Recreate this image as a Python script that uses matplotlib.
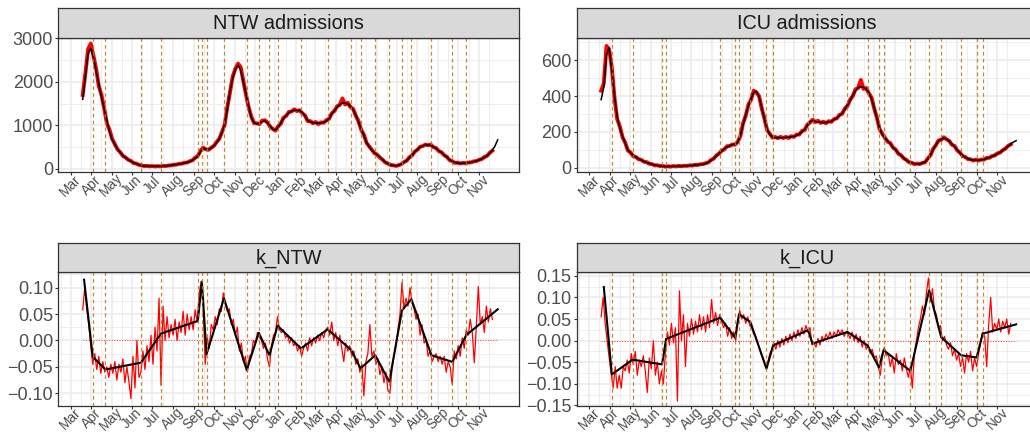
import numpy as np
import pandas as pd
import matplotlib
matplotlib.use('Agg')
from matplotlib import pyplot as plt

plt.rcParams['font.family'] = ['Liberation Sans', 'DejaVu Sans']

origin = pd.Timestamp('2020-03-01')

# change points (dashed lines)
ntw_breaks = ['2020-04-03', '2020-04-22', '2020-06-14', '2020-07-14', '2020-09-07', '2020-09-13',
              '2020-09-20', '2020-10-16', '2020-11-19', '2020-12-07', '2020-12-23', '2021-01-04',
              '2021-02-08', '2021-03-20', '2021-04-24', '2021-05-08', '2021-05-30', '2021-06-20',
              '2021-07-09', '2021-07-23', '2021-08-22', '2021-09-22', '2021-10-13']
icu_breaks = ['2020-04-04', '2020-05-05', '2020-06-18', '2020-06-24', '2020-09-13', '2020-10-05',
              '2020-10-11', '2020-10-28', '2020-11-21', '2020-12-01', '2021-01-22', '2021-01-29',
              '2021-03-22', '2021-04-21', '2021-05-08', '2021-05-15', '2021-06-24', '2021-07-22',
              '2021-08-09', '2021-09-08', '2021-10-01', '2021-10-10']

# admissions: observed (every 4 days) and fitted (every 4 days), from 2020-03-19
adm_start = '2020-03-19'
ntw_obs = [1700, 2200, 2750, 2880, 2600, 2300, 1900, 1700, 1400, 1050,
           900, 690, 570, 450, 385, 300, 265, 210, 185, 135,
           125, 95, 82, 68, 72, 60, 68, 58, 66, 60,
           72, 68, 80, 82, 98, 100, 120, 122, 145, 148,
           180, 200, 260, 300, 420, 490, 450, 440, 490, 530,
           620, 690, 850, 1010, 1420, 1760, 2120, 2300, 2420, 2340,
           2020, 1700, 1410, 1200, 1050, 1050, 1030, 1110, 1120, 1070,
           970, 920, 880, 980, 1040, 1180, 1220, 1310, 1320, 1370,
           1330, 1350, 1280, 1230, 1100, 1100, 1050, 1080, 1030, 1070,
           1060, 1120, 1150, 1280, 1330, 1440, 1470, 1620, 1480, 1520,
           1420, 1380, 1220, 1100, 900, 790, 600, 520, 440, 360,
           330, 260, 215, 150, 125, 90, 85, 70, 88, 110,
           160, 190, 270, 310, 400, 440, 510, 525, 560, 545,
           560, 500, 480, 410, 385, 315, 280, 205, 180, 140,
           145, 125, 140, 130, 150, 150, 175, 180, 210, 225,
           275, 300, 370, 420]
ntw_fit = [1600, 2150, 2650, 2770, 2560, 2250, 1950, 1650, 1380, 1120,
           860, 680, 560, 460, 380, 310, 260, 215, 180, 140,
           120, 100, 78, 72, 68, 66, 64, 63, 63, 65,
           68, 72, 77, 85, 95, 105, 115, 125, 138, 150,
           170, 205, 250, 290, 400, 470, 460, 452, 480, 540,
           600, 700, 830, 1030, 1380, 1780, 2080, 2290, 2380, 2270,
           2000, 1720, 1430, 1170, 1070, 1035, 1050, 1090, 1100, 1060,
           990, 910, 900, 960, 1060, 1160, 1230, 1290, 1330, 1350,
           1345, 1340, 1300, 1220, 1120, 1080, 1065, 1055, 1050, 1055,
           1075, 1100, 1160, 1260, 1340, 1420, 1480, 1510, 1515, 1490,
           1440, 1360, 1240, 1080, 920, 770, 610, 510, 430, 370,
           320, 270, 210, 160, 120, 95, 80, 75, 85, 115,
           150, 195, 260, 320, 390, 450, 500, 530, 550, 555,
           545, 510, 470, 420, 375, 325, 270, 215, 175, 150,
           138, 132, 132, 138, 145, 155, 170, 185, 205, 232,
           265, 305, 360, 430, 530, 670]
icu_obs = [430, 470, 680, 660, 560, 390, 270, 230, 170, 140,
           95, 85, 64, 60, 47, 44, 33, 31, 22, 20,
           13, 14, 9, 10, 6, 8, 6, 9, 7, 10,
           8, 11, 10, 13, 12, 16, 15, 19, 20, 25,
           29, 43, 50, 68, 78, 95, 102, 120, 121, 130,
           128, 145, 175, 248, 290, 352, 380, 430, 420, 400,
           330, 275, 210, 190, 168, 172, 165, 172, 166, 172,
           166, 176, 172, 185, 185, 205, 210, 240, 252, 268,
           255, 262, 250, 257, 248, 260, 256, 272, 275, 295,
           300, 330, 345, 380, 400, 438, 445, 490, 440, 445,
           415, 392, 330, 280, 215, 190, 168, 145, 138, 112,
           102, 78, 70, 52, 44, 30, 28, 20, 23, 20,
           27, 30, 52, 68, 105, 125, 152, 155, 170, 158,
           150, 128, 122, 96, 85, 65, 60, 48, 47, 40,
           45, 40, 46, 45, 55, 55, 65, 68, 80, 84,
           98, 106, 122, 130]
icu_fit = [380, 450, 630, 670, 540, 400, 285, 220, 175, 135,
           100, 82, 68, 58, 50, 42, 35, 29, 24, 19,
           15, 12, 10, 8, 7, 7, 7, 8, 8, 9,
           9, 10, 11, 12, 13, 15, 16, 18, 20, 23,
           30, 40, 52, 65, 80, 92, 105, 116, 123, 128,
           132, 140, 180, 240, 295, 345, 385, 420, 428, 395,
           335, 270, 215, 185, 172, 168, 168, 168, 168, 169,
           170, 172, 175, 180, 188, 200, 215, 235, 258, 262,
           258, 255, 253, 252, 253, 255, 260, 268, 278, 290,
           305, 325, 350, 375, 405, 430, 448, 452, 448, 438,
           420, 385, 335, 275, 220, 185, 165, 150, 133, 115,
           98, 82, 68, 55, 42, 32, 26, 22, 21, 22,
           25, 32, 48, 72, 100, 128, 148, 160, 165, 160,
           148, 133, 118, 100, 82, 68, 58, 50, 45, 43,
           42, 42, 44, 47, 52, 57, 63, 70, 78, 86,
           96, 108, 120, 132, 143, 151]

# growth rate k: observed every 3 days from 2020-03-19, fitted piecewise linear at change points
k_start = '2020-03-19'
k_ntw_obs = [0.058, 0.100, 0.060, 0.030, -0.010, -0.045, -0.025, -0.055, -0.030, -0.062,
             -0.040, -0.060, -0.050, -0.070, -0.045, -0.062, -0.040, -0.075, -0.045, -0.060,
             -0.035, -0.080, -0.050, -0.078, -0.110, -0.030, -0.090, 0.000, -0.070, -0.060,
             -0.020, -0.055, -0.010, -0.040, 0.010, -0.045, 0.025, -0.020, 0.080, -0.085,
             0.065, 0.000, 0.045, 0.005, 0.030, 0.010, 0.040, 0.000, 0.035, 0.015,
             0.055, 0.010, 0.050, 0.020, 0.045, 0.020, 0.058, 0.035, 0.090, 0.112,
             0.060, -0.045, 0.005, -0.015, 0.030, 0.020, 0.045, 0.030, 0.060, 0.055,
             0.090, 0.070, 0.055, 0.060, 0.030, 0.040, 0.010, 0.025, -0.020, -0.005,
             -0.040, -0.030, -0.060, -0.030, -0.025, 0.000, -0.005, 0.015, 0.005, 0.000,
             -0.015, -0.005, -0.035, -0.050, -0.010, 0.010, 0.015, 0.045, 0.020, 0.015,
             0.020, 0.005, 0.010, -0.005, 0.005, -0.010, -0.005, -0.020, -0.010, -0.030,
             -0.015, -0.005, -0.020, 0.005, -0.010, 0.005, -0.005, 0.010, 0.000, 0.015,
             0.005, 0.020, 0.025, 0.010, 0.035, 0.000, 0.015, -0.010, 0.010, -0.015,
             -0.040, -0.005, -0.020, -0.010, -0.030, -0.020, -0.045, -0.035, -0.060, -0.045,
             -0.105, -0.040, -0.025, 0.030, -0.030, -0.020, -0.045, -0.035, -0.065, -0.050,
             -0.080, -0.060, -0.095, -0.100, -0.055, -0.030, -0.010, 0.020, 0.050, 0.110,
             0.060, 0.080, 0.065, 0.100, 0.070, 0.060, 0.040, 0.050, 0.010, 0.030,
             -0.005, 0.000, -0.030, -0.020, -0.040, -0.030, -0.025, -0.040, -0.030, -0.045,
             -0.030, -0.060, -0.040, -0.050, -0.083, -0.020, -0.035, -0.010, -0.030, 0.005,
             -0.015, 0.020, 0.010, 0.040, 0.015, -0.042, 0.025, 0.102, 0.030, 0.045,
             0.015, 0.065, 0.035, 0.060, 0.040]
k_icu_obs = [0.055, 0.100, 0.040, 0.000, -0.040, -0.075, -0.110, -0.060, -0.110, -0.080,
             -0.110, -0.060, -0.070, -0.045, -0.075, -0.030, -0.055, -0.025, -0.080, -0.045,
             -0.060, -0.035, -0.070, -0.120, -0.040, -0.065, 0.000, -0.080, -0.050, -0.100,
             -0.070, -0.100, -0.030, 0.020, -0.010, 0.040, -0.005, 0.030, -0.140, 0.115,
             0.000, 0.060, -0.060, 0.040, 0.010, 0.050, 0.015, 0.045, 0.020, 0.060,
             0.025, 0.055, 0.020, 0.060, 0.030, 0.095, 0.040, 0.065, 0.035, 0.060,
             0.045, 0.030, 0.040, 0.010, 0.030, 0.005, 0.020, 0.000, 0.035, 0.070,
             0.050, 0.060, 0.040, 0.055, 0.035, 0.030, 0.015, 0.010, -0.005, -0.020,
             -0.035, -0.045, -0.060, -0.050, -0.030, -0.020, -0.005, -0.020, 0.000, -0.015,
             0.005, -0.010, 0.010, -0.005, 0.015, 0.000, 0.020, 0.005, 0.025, 0.010,
             0.030, 0.015, 0.035, 0.020, 0.030, -0.010, -0.005, -0.015, 0.005, -0.010,
             0.010, 0.000, 0.015, 0.005, 0.020, 0.005, 0.020, 0.010, 0.025, 0.015,
             0.025, 0.010, 0.020, 0.015, 0.005, 0.020, 0.000, 0.015, -0.005, 0.010,
             -0.015, 0.000, -0.020, -0.010, -0.030, -0.020, -0.040, -0.035, -0.060, -0.080,
             -0.040, -0.015, -0.035, -0.030, -0.060, -0.040, -0.075, -0.030, -0.055, -0.045,
             -0.070, -0.040, -0.065, -0.085, -0.060, -0.110, -0.030, 0.000, 0.030, 0.050,
             0.080, 0.060, 0.110, 0.145, 0.090, 0.120, 0.070, 0.060, 0.030, 0.035,
             0.000, 0.010, -0.010, -0.020, -0.005, -0.035, -0.020, -0.045, -0.030, -0.060,
             -0.040, -0.075, -0.030, -0.050, -0.025, -0.070, -0.040, -0.060, -0.030, -0.005,
             0.020, 0.010, -0.060, 0.035, 0.100, 0.020, 0.040, 0.025, 0.050, 0.020,
             0.045, 0.030, 0.050, 0.015, 0.040]
# fitted k at: start, each change point, end
k_ntw_fit = [0.115, -0.031, -0.055, -0.042, 0.013, 0.037, 0.111, -0.026, 0.0795, -0.056, 0.0145,
             -0.028, 0.028, -0.015, 0.021, -0.018, -0.053, -0.028, -0.078, 0.057, 0.078, -0.028,
             -0.0405, 0.010, 0.059]
k_icu_fit = [0.124, -0.078, -0.044, -0.055, 0.004, 0.053, 0.007, 0.061, 0.043, -0.065, -0.011,
             0.024, -0.007, 0.020, -0.011, -0.062, -0.022, -0.070, 0.116, 0.008, -0.034, -0.039,
             0.016, 0.0376]
k_ntw_ends = ['2020-03-21', '2021-11-29']
k_icu_ends = ['2020-03-23', '2021-11-29']


def days(d):
    return np.asarray((pd.to_datetime(d) - origin).days, dtype=float)


def grid(start, n, step):
    return days([start])[0] + step * np.arange(n)


months = pd.date_range('2020-03-01', '2021-11-01', freq='MS')
month_x = days(months)
month_lab = list(months.strftime('%b'))
edges = days(pd.date_range('2020-02-01', '2021-12-01', freq='MS'))
mid_x = edges[:-1] + np.diff(edges) / 2

W, H = 1030, 433
fig = plt.figure(figsize=(W / 100, H / 100), dpi=100)


def px_axes(x0, y0, x1, y1):
    return fig.add_axes([x0 / W, 1 - y1 / H, (x1 - x0) / W, (y1 - y0) / H])


def minus(v, fmt):
    return (fmt % v).replace('-', '\u2212')


def panel(col, row, title, ylim, yticks, ymin, fmt, breaks):
    x0 = [58.3, 576.7][col]
    x1 = x0 + 460.7
    sy0, py0, py1 = [(8.3, 37.7, 172.3), (242.7, 272.3, 405.7)][row]
    ax = px_axes(x0, py0, x1, py1)
    ax.set_xlim(-18.5, 669.8)
    ax.set_ylim(ylim)
    ax.set_xticks(month_x)
    ax.set_xticklabels(month_lab, rotation=45, ha='center', va='center', rotation_mode='anchor')
    ax.set_xticks(mid_x, minor=True)
    ax.set_yticks(yticks)
    ax.set_yticklabels([minus(v, fmt) for v in yticks])
    ax.set_yticks(ymin, minor=True)
    ax.grid(which='major', color='#EBEBEB', lw=1.1)
    ax.grid(which='minor', color='#EBEBEB', lw=0.6)
    ax.set_axisbelow(True)
    ax.tick_params(which='minor', length=0)
    ax.tick_params(which='major', length=2.2, width=0.8, color='#333333', labelcolor='#4D4D4D', pad=1.5)
    ax.tick_params(axis='y', labelsize=13)
    ax.tick_params(axis='x', labelsize=9.8, pad=7.2)
    for s in ax.spines.values():
        s.set_color('#333333')
        s.set_linewidth(0.9)
    for b in days(breaks):
        ax.axvline(b, color='#B5761A', lw=0.9, ls=(0, (3, 2.5)), alpha=0.85, zorder=3)

    sax = px_axes(x0, sy0, x1, py0)
    sax.set_facecolor('#D9D9D9')
    sax.set_xticks([])
    sax.set_yticks([])
    for s in sax.spines.values():
        s.set_color('#333333')
        s.set_linewidth(0.9)
    sax.text(0.5, 0.48, title, ha='center', va='center', fontsize=14.3, color='#1A1A1A',
             transform=sax.transAxes)
    return ax


ax = panel(0, 0, 'NTW admissions', (-76, 3014), [0, 1000, 2000, 3000], [500, 1500, 2500], '%d', ntw_breaks)
ax.plot(grid(adm_start, len(ntw_obs), 4), ntw_obs, color='red', lw=2.8, zorder=2)
ax.plot(grid(adm_start, len(ntw_fit), 4), ntw_fit, color='black', lw=1.1, zorder=2.5)

ax = panel(1, 0, 'ICU admissions', (-25.7, 726), [0, 200, 400, 600], [100, 300, 500, 700], '%d', icu_breaks)
ax.plot(grid(adm_start, len(icu_obs), 4), icu_obs, color='red', lw=2.8, zorder=2)
ax.plot(grid(adm_start, len(icu_fit), 4), icu_fit, color='black', lw=1.1, zorder=2.5)

kt = [-0.10, -0.05, 0.00, 0.05, 0.10]
ax = panel(0, 1, 'k_NTW', (-0.1235, 0.129), kt, [-0.075, -0.025, 0.025, 0.075, 0.125], '%.2f', ntw_breaks)
kx = grid(k_start, len(k_ntw_obs), 3)
fx = np.concatenate([days(k_ntw_ends[:1]), days(ntw_breaks), days(k_ntw_ends[1:])])
ax.hlines(0, kx[0], fx[-1], colors='red', linestyles=':', lw=0.7, alpha=0.8, zorder=1.5)
ax.plot(kx, k_ntw_obs, color='red', lw=0.9, zorder=2)
ax.plot(fx, k_ntw_fit, color='black', lw=1.5, zorder=2.5)

kt = [-0.15, -0.10, -0.05, 0.00, 0.05, 0.10, 0.15]
ax = panel(1, 1, 'k_ICU', (-0.1505, 0.158), kt, [-0.125, -0.075, -0.025, 0.025, 0.075, 0.125], '%.2f', icu_breaks)
kx = grid(k_start, len(k_icu_obs), 3)
fx = np.concatenate([days(k_icu_ends[:1]), days(icu_breaks), days(k_icu_ends[1:])])
ax.hlines(0, kx[0], fx[-1], colors='red', linestyles=':', lw=0.7, alpha=0.8, zorder=1.5)
ax.plot(kx, k_icu_obs, color='red', lw=0.9, zorder=2)
ax.plot(fx, k_icu_fit, color='black', lw=1.5, zorder=2.5)

fig.savefig('out.png', dpi=100)
